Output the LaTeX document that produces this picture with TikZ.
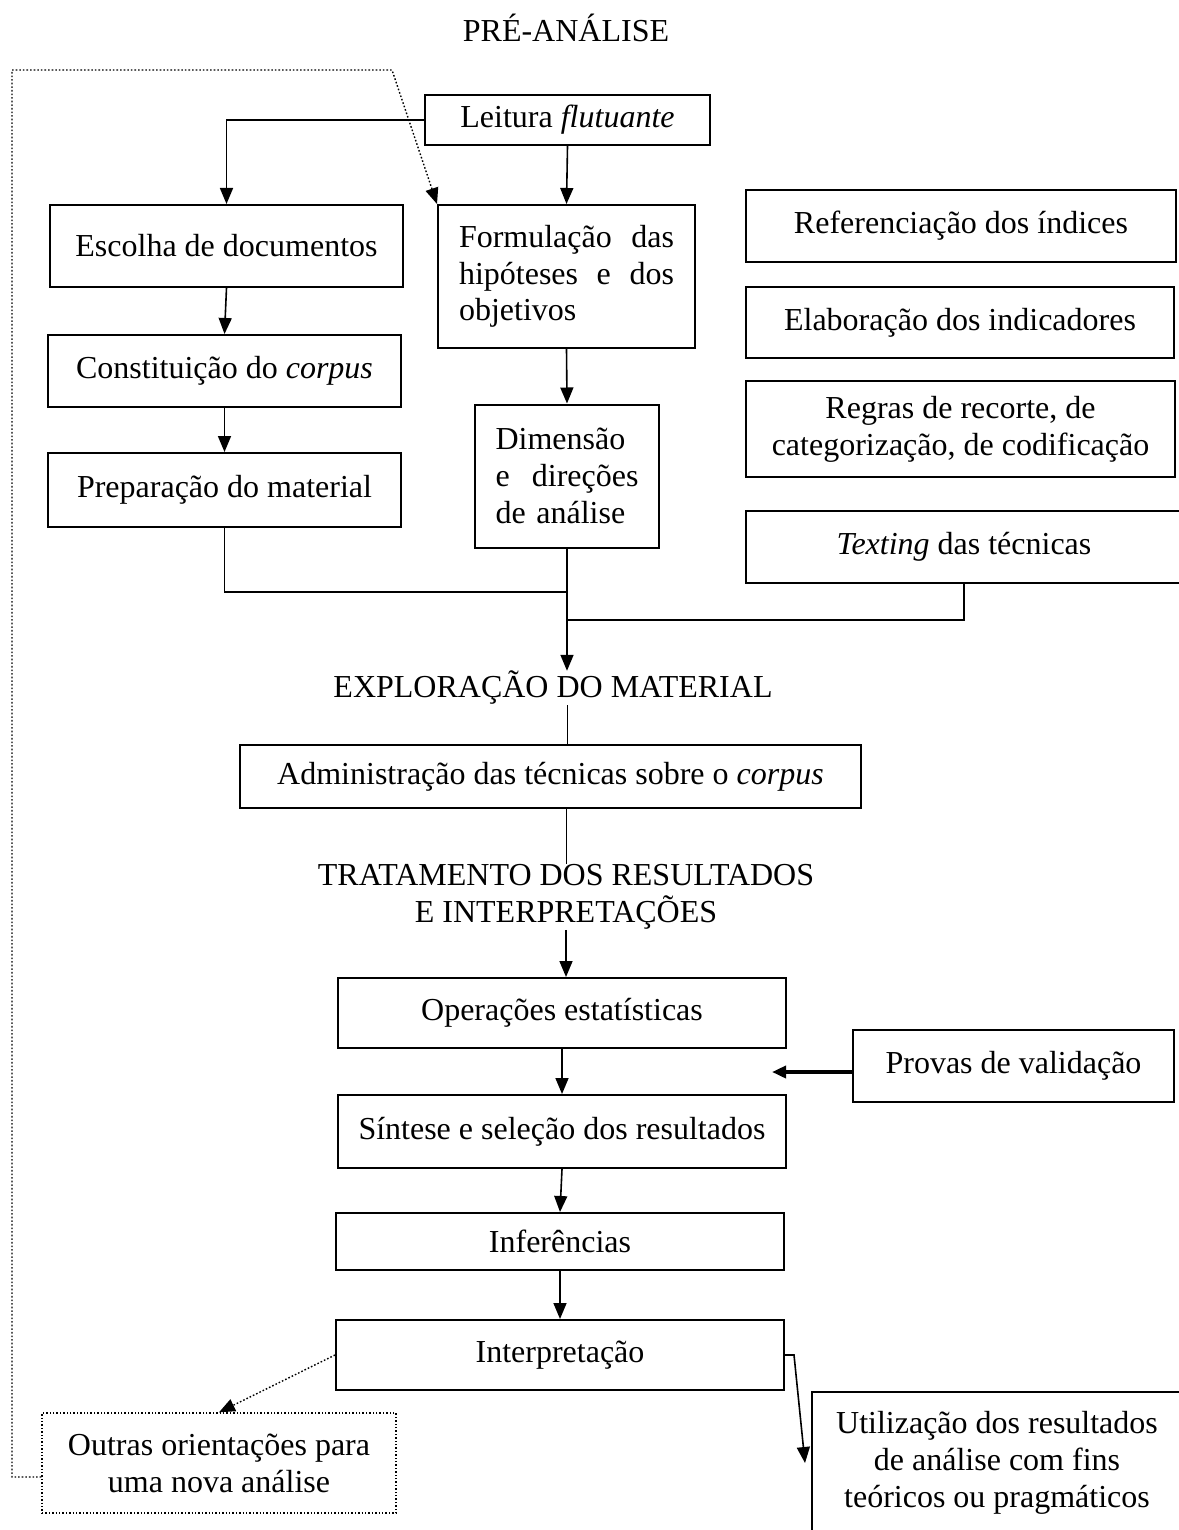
\documentclass[tikz,border=0pt]{standalone}
\usepackage{fontspec}
\setmainfont{Liberation Serif}
\usetikzlibrary{arrows.meta}

\begin{document}
\begin{tikzpicture}[x=0.5pt, y=-0.5pt,
    font=\fontsize{16}{18.4}\selectfont,
    box/.style={draw, line width=1pt, inner sep=0pt, align=center},
    dotbox/.style={draw, densely dotted, line width=0.7pt, inner sep=0pt, align=center},
    lbl/.style={inner sep=0pt, align=center},
    arr/.style={line width=0.8pt, -{Triangle[length=8pt,width=6.5pt]}}]
    \useasboundingbox (0,0) rectangle (1178,1530);

    \node[lbl] (pre) at (566,28) {PRÉ-ANÁLISE};
    \node[box, minimum width=142.5pt, minimum height=25pt] (leitura) at (567.5,120) {Leitura \textit{flutuante}};
    \node[box, minimum width=176.5pt, minimum height=41pt] (escolha) at (226.5,246) {Escolha de documentos};
    \node[box, minimum width=176.5pt, minimum height=36pt] (constit) at (224.5,371) {Constituição do \textit{corpus}};
    \node[box, minimum width=176.5pt, minimum height=37pt] (prep) at (224.5,490) {Preparação do material};
    \node[box, minimum width=128.5pt, minimum height=71.5pt, text width=107.5pt, align=left] (formul) at (566.5,276.5)
        {Formulação \hfill das\\ hipóteses \hfill e \hfill dos\\ objetivos};
    \node[box, minimum width=92pt, minimum height=71.5pt, text width=71.5pt, align=left] (dimens) at (567,476)
        {Dimensão\\ e \hfill direções\\ de análise};

    \node[box, minimum width=215pt, minimum height=36pt] (refer) at (961,226) {Referenciação dos índices};
    \node[box, minimum width=214pt, minimum height=35.5pt] (elab) at (960,322.5) {Elaboração dos indicadores};
    \node[box, minimum width=214.5pt, minimum height=48pt] (regras) at (960.5,429) {Regras de recorte, de\\ categorização, de codificação};
    \node[box, minimum width=218pt, minimum height=36pt] (texting) at (964,547) {\textit{Texting} das técnicas};

    \node[lbl] (explo) at (553,688) {EXPLORAÇÃO DO MATERIAL};
    \node[box, minimum width=310.5pt, minimum height=31.5pt] (admin) at (550.5,776.5) {Administração das técnicas sobre o \textit{corpus}};
    \node[lbl] (trat) at (566,897) {TRATAMENTO DOS RESULTADOS\\ E INTERPRETAÇÕES};

    \node[box, minimum width=224pt, minimum height=35pt] (oper) at (562,1013) {Operações estatísticas};
    \node[box, minimum width=160.5pt, minimum height=36pt] (provas) at (1013.5,1066) {Provas de validação};
    \node[box, minimum width=224pt, minimum height=36.5pt] (sintese) at (562,1131.5) {Síntese e seleção dos resultados};
    \node[box, minimum width=224pt, minimum height=28.5pt] (infer) at (560,1241.5) {Inferências};
    \node[box, minimum width=224pt, minimum height=35pt] (interp) at (560,1355) {Interpretação};
    \node[dotbox, minimum width=177pt, minimum height=50pt] (outras) at (219,1463) {Outras orientações para\\ uma nova análise};
    \node[box, minimum width=185pt, minimum height=71pt] (utiliz) at (997,1463) {Utilização dos resultados\\ de análise com fins\\ teóricos ou pragmáticos};

    \coordinate (j1) at (567,592);
    \coordinate (j2) at (567,620);
    \coordinate (pv) at (772,1072);
    \coordinate (loopa) at (12,70);
    \coordinate (loopb) at (392,70);

    % pre-analise
    \draw[arr] (leitura.west) -| (escolha.north);
    \draw[arr] (leitura.south) -- (formul.north);
    \draw[arr] (escolha.south) -- (constit.north);
    \draw[arr] (constit.south) -- (prep.north);
    \draw[arr] (formul.south) -- (dimens.north);
    \draw[line width=0.8pt] (prep.south) |- (j1);
    \draw[line width=0.8pt] (texting.south) |- (j2);
    \draw[arr] (dimens.south) -- (dimens.south |- explo.north);

    % exploracao e tratamento
    \draw[line width=0.5pt] (explo.south -| dimens.south) -- (dimens.south |- admin.north);
    \draw[line width=0.5pt] (admin.south -| trat) -- (trat.north);
    \draw[arr] (trat.south) -- (trat.south |- oper.north);
    \draw[arr] (oper.south) -- (sintese.north);
    \draw[line width=2pt, -{Triangle[length=7pt,width=6pt]}] (pv -| provas.west) -- (pv);
    \draw[arr] (sintese.south) -- (infer.north);
    \draw[arr] (infer.south) -- (interp.north);
    \draw[arr] (interp.east) -- ++(9,0) -- ([xshift=-3pt]utiliz.west);

    % retorno
    \draw[arr, densely dotted, line width=0.7pt] (interp.west) -- (outras.north);
    \draw[arr, densely dotted, line width=0.7pt] ([yshift=-7pt]outras.west) -| (loopa) -- (loopb) -- (formul.north west);
\end{tikzpicture}
\end{document}
